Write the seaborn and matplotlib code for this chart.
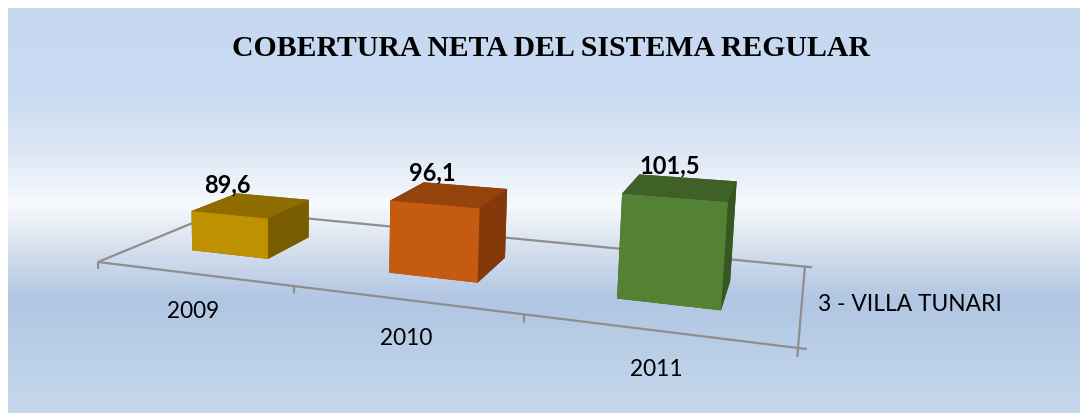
import numpy as np
import matplotlib
matplotlib.use("Agg")
import matplotlib.pyplot as plt
from matplotlib.colors import LinearSegmentedColormap
import seaborn as sns

# ---- data ----
years = ["2009", "2010", "2011"]
values = [89.6, 96.1, 101.5]
value_labels = ["89,6", "96,1", "101,5"]
series_label = "3 - VILLA TUNARI"
title = "COBERTURA NETA DEL SISTEMA REGULAR"

# ---- style ----
front_colors = ["#BF9000", "#C55A11", "#548235"]
top_colors = ["#8F6C00", "#94430D", "#3F6128"]
side_colors = ["#7A5C00", "#84390B", "#375623"]
axis_color = "#8E8E8E"

sns.set_theme(style="white")
plt.rcParams["font.family"] = ["Lato", "DejaVu Sans"]
front = sns.color_palette(front_colors)
top = sns.color_palette(top_colors)
side = sns.color_palette(side_colors)

W, H = 1080, 413
fig = plt.figure(figsize=(W / 100, H / 100), dpi=100, facecolor="white")

# gradient panel
bg = fig.add_axes([8 / W, 0, 1 - 8 / W, 1 - 8 / H])
stops = [(0.0, "#C6D9F1"), (0.21, "#C8DBF1"), (0.36, "#DEE8F5"), (0.485, "#F7FAFD"),
         (0.575, "#DCE4EF"), (0.72, "#B0C6E2"), (1.0, "#C5D8EC")]
cmap = LinearSegmentedColormap.from_list("panel", stops)
bg.imshow(np.linspace(0, 1, 405)[:, None], aspect="auto", cmap=cmap, vmin=0, vmax=1)
bg.set_axis_off()

# 3D axes with a calibrated camera (three-point perspective of the original)
ax = fig.add_axes([0, 0, 1, 1], projection="3d", computed_zorder=False)
ax.set_axis_off()
ax.patch.set_visible(False)
ax.set_proj_type("ortho")
floor = 80.36
nu = -0.00066
M = np.array([
    [174.2, 171.5, nu * 300, 98 - floor * nu * 300],
    [2.88, -8.26, nu * 6900, 262 - floor * nu * 6900],
    [-0.30, 1.0, -0.02, 0.02 * floor],
    [-0.0741, 0.2064, nu, 1 - floor * nu],
])
ax.get_proj = lambda: M
ax.apply_aspect = lambda position=None: None


def label3d(x, y, z, s, **kw):
    """Place a text at the projected position of a point in the 3D axes."""
    v = M @ np.array([x, y, z, 1.0])
    fig.text(v[0] / v[3] / W, 1 - v[1] / v[3] / H, s, color="black", va="center", **kw)


n = len(values)
bar_w, bar_y0, bar_d = 0.407, 0.30, 0.38
xs = np.arange(n) + np.array([0.29, 0.30, 0.30])
ys = np.full(n, bar_y0)
zs = np.full(n, floor)
heights = np.array(values) - floor
face_colors = []
for i in range(n):
    # bottom, top, -y, +y, -x, +x
    face_colors += [side[i], top[i], front[i], side[i], side[i], side[i]]
ax.bar3d(xs, ys, zs, bar_w, bar_d, heights, color=face_colors, shade=False,
         edgecolor="none", zorder=3)

# floor outline and ticks
lw = 1.6
def seg(x, y, z):
    ax.plot(x, y, z, color=axis_color, lw=lw, zorder=1, solid_capstyle="butt")
seg([0, 3], [0, 0], [floor, floor])
seg([0, 3], [1, 1], [floor, floor])
seg([0, 0], [0, 1], [floor, floor])
seg([3, 3], [0, 1], [floor, floor])
for i in range(n + 1):
    seg([i, i], [0, 0], [floor, floor - 1.6])
seg([3, 3.03], [0, 0], [floor, floor])
seg([3, 3.03], [1, 1], [floor, floor])

# labels
year_drop = [8.5, 7.9, 7.4]
year_shift = [0.0, 0.01, 0.012]
label_rise = [6.8, 6.6, 6.0]
label_shift = [-0.01, -0.01, -0.025]
for i in range(n):
    label3d(i + 0.5 + year_shift[i], 0.0, floor - year_drop[i], years[i],
            fontsize=16.3, ha="center")
    label3d(xs[i] + bar_w / 2 + label_shift[i], bar_y0, values[i] + label_rise[i],
            value_labels[i], fontsize=17, fontweight="bold", ha="center")
label3d(3.06, 0.5, floor, series_label, fontsize=16.4, ha="left")

ax.set_xticks([])
ax.set_yticks([])
ax.set_zticks([])
ax._viewLim.set_points(np.array([[0.0, float(H)], [float(W), 0.0]]))

fig.text(551 / W, 1 - 48 / H, title, fontsize=21.4, fontweight="bold", color="black",
         family="Liberation Serif", ha="center", va="center")

fig.savefig("out.png", dpi=100, facecolor="white")
